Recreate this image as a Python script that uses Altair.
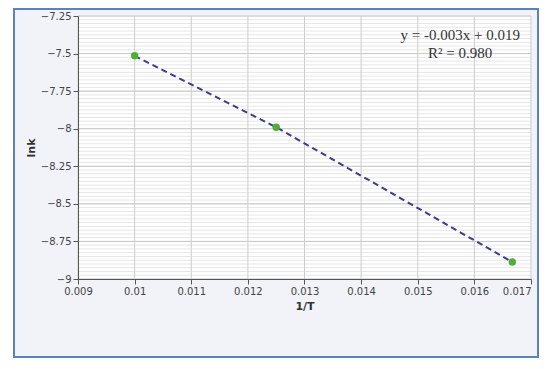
import altair as alt
import pandas as pd
import numpy as np

# data
inv_T = [0.01, 0.0125, 0.01667]
lnk = [-7.515, -7.99, -8.887]

x_ticks = [0.009, 0.01, 0.011, 0.012, 0.013, 0.014, 0.015, 0.016, 0.017]
y_ticks = [-9, -8.75, -8.5, -8.25, -8, -7.75, -7.5, -7.25]
y_minor = [round(v, 3) for v in np.arange(-9, -7.25 + 1e-9, 0.025)]

eq_lines = ["y = -0.003x + 0.019", "R² = 0.980"]
eq_x = [0.01575, 0.01575]
eq_y = [-7.378, -7.497]

W, H = 453, 263

df = pd.DataFrame({"x": inv_T, "y": lnk})
xs = alt.Scale(domain=[0.009, 0.017], nice=False, zero=False)
ys = alt.Scale(domain=[-9, -7.25], nice=False, zero=False)

xaxis = alt.Axis(
    values=x_ticks, format=".3~f", grid=False, zindex=1, title="1/T",
    titleFont="DejaVu Sans", titleFontSize=11, titleFontWeight="bold", titleColor="#333",
    labelFont="DejaVu Sans", labelFontSize=10, labelColor="#444",
    labelOverlap=False, labelBound=False, labelFlush=False,
    labelAlign=alt.ExprRef(expr="datum.value >= 0.0169 ? 'right' : 'center'"),
    domainColor="#555", tickColor="#555", tickSize=5, titlePadding=4,
)
yaxis = alt.Axis(
    values=y_ticks, format=".2~f", grid=False, zindex=1, title="lnk",
    titleFont="DejaVu Sans", titleFontSize=11, titleFontWeight="bold", titleColor="#333",
    labelFont="DejaVu Sans", labelFontSize=10, labelColor="#444",
    labelOverlap=False, labelBound=False, labelFlush=False,
    domainColor="#555", tickColor="#555", tickSize=5, titlePadding=4,
)

X = lambda: alt.X("x:Q", scale=xs, axis=xaxis)
Y = lambda: alt.Y("y:Q", scale=ys, axis=yaxis)

frame = alt.Chart(pd.DataFrame({"a": [0]})).mark_rect(
    fill="#f1f3f8", stroke="#5b82bb", strokeWidth=2
).encode(x=alt.value(-64), x2=alt.value(W + 7), y=alt.value(-7), y2=alt.value(H + 78))

plotbg = alt.Chart(pd.DataFrame({"a": [0]})).mark_rect(fill="white").encode(
    x=alt.value(0), x2=alt.value(W), y=alt.value(0), y2=alt.value(H)
)

minor = alt.Chart(pd.DataFrame({"y": y_minor})).mark_rule(
    color="#e6e6e6", strokeWidth=1
).encode(y=Y())

major_h = alt.Chart(pd.DataFrame({"y": y_ticks})).mark_rule(
    color="#c8c8c8", strokeWidth=1
).encode(y=Y())

major_v = alt.Chart(pd.DataFrame({"x": x_ticks})).mark_rule(
    color="#cdcdcd", strokeWidth=1
).encode(x=X())

line = alt.Chart(df).mark_line(
    color="#3a3d8c", strokeWidth=2, strokeDash=[6, 4]
).encode(x=X(), y=Y())

pts = alt.Chart(df).mark_point(
    filled=True, color="#4fae35", size=55, opacity=1
).encode(x=X(), y=Y())

txt = alt.Chart(pd.DataFrame({"t": eq_lines, "x": eq_x, "y": eq_y})).mark_text(
    font="Liberation Serif", fontSize=15, color="#333", align="center", baseline="middle"
).encode(x=X(), y=Y(), text="t:N")

chart = alt.layer(frame, plotbg, minor, major_h, major_v, line, pts, txt).properties(
    width=W, height=H,
    autosize=alt.AutoSizeParams(type="none"),
    padding={"left": 70, "top": 8, "right": 8, "bottom": 80},
).configure_view(stroke=None).configure(background="white")

chart.save("out.html", embed_options={"renderer": "svg", "actions": False})
